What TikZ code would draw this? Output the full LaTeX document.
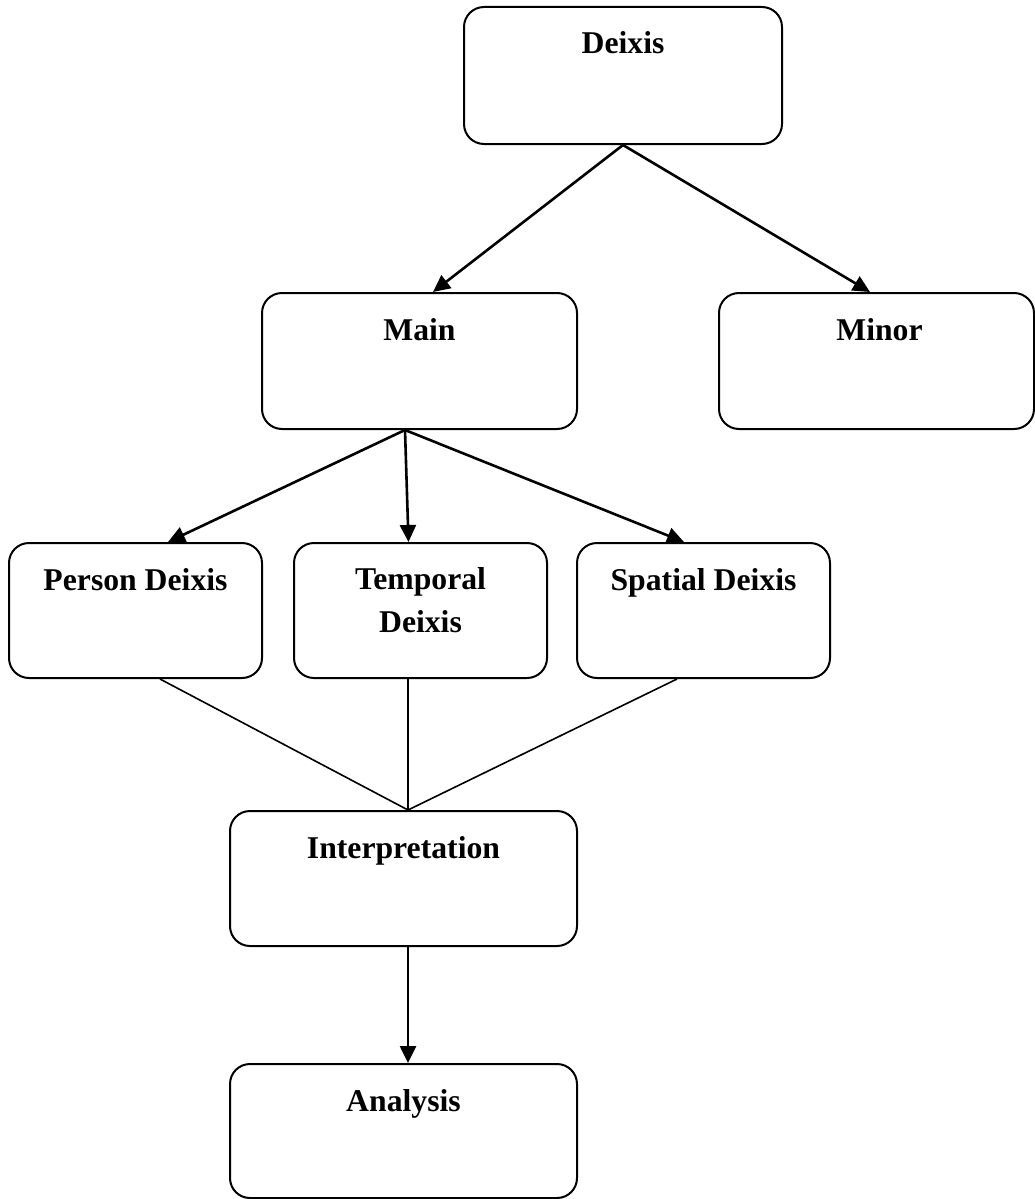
\documentclass[tikz,border=0pt]{standalone}
\usepackage{fontspec}
\setmainfont{Liberation Serif}
\usetikzlibrary{arrows.meta}
\begin{document}
\begin{tikzpicture}[x=1pt,y=-1pt,
  box/.style={draw, line width=2pt, rounded corners=20pt, inner sep=0pt},
  lbl/.style={anchor=base, yshift=-48pt, font=\fontsize{31.7}{43}\selectfont\bfseries, align=center, inner sep=0pt},
  arr/.style={line width=2.6pt, -{Triangle[length=17pt,width=16pt]}},
  thin/.style={line width=1.6pt}]
\useasboundingbox (0,0) rectangle (1035,1199);
\node[box, minimum width=318pt, minimum height=137pt, label={[lbl]north:Deixis}] (deixis) at (623,75.5) {};
\node[box, minimum width=315pt, minimum height=136pt, label={[lbl]north:Main}] (main) at (419.5,361) {};
\node[box, minimum width=315pt, minimum height=136pt, label={[lbl, xshift=3pt]north:Minor}] (minor) at (876.5,361) {};
\node[box, minimum width=253pt, minimum height=135pt, label={[lbl]north:Person Deixis}] (person) at (135.5,610.5) {};
\node[box, minimum width=253pt, minimum height=135pt, label={[lbl, yshift=-42pt]north:Temporal\\Deixis}] (temporal) at (420.5,610.5) {};
\node[box, minimum width=253pt, minimum height=135pt, label={[lbl]north:Spatial Deixis}] (spatial) at (703.5,610.5) {};
\node[box, minimum width=347pt, minimum height=135pt, label={[lbl]north:Interpretation}] (interp) at (403.5,878.5) {};
\node[box, minimum width=347pt, minimum height=134pt, label={[lbl]north:Analysis}] (analysis) at (403.5,1131) {};
\draw[arr] (deixis.south) -- ([xshift=13.5pt]main.north);
\draw[arr] (deixis.south) -- ([xshift=-6.5pt]minor.north);
\draw[arr] ([xshift=-14.5pt]main.south) -- ([xshift=32.5pt]person.north);
\draw[arr] ([xshift=-14.5pt]main.south) -- ([xshift=-12pt]temporal.north);
\draw[arr] ([xshift=-14.5pt]main.south) -- ([xshift=-19.5pt]spatial.north);
\draw[thin] ([xshift=24.5pt]person.south) -- ([xshift=4.5pt]interp.north);
\draw[thin] ([xshift=-12.5pt]temporal.south) -- ([xshift=4.5pt]interp.north);
\draw[thin] ([xshift=-26.5pt]spatial.south) -- ([xshift=4.5pt]interp.north);
\draw[arr] ([xshift=4.5pt]interp.south) -- ([xshift=4.5pt]analysis.north);
\end{tikzpicture}
\end{document}
